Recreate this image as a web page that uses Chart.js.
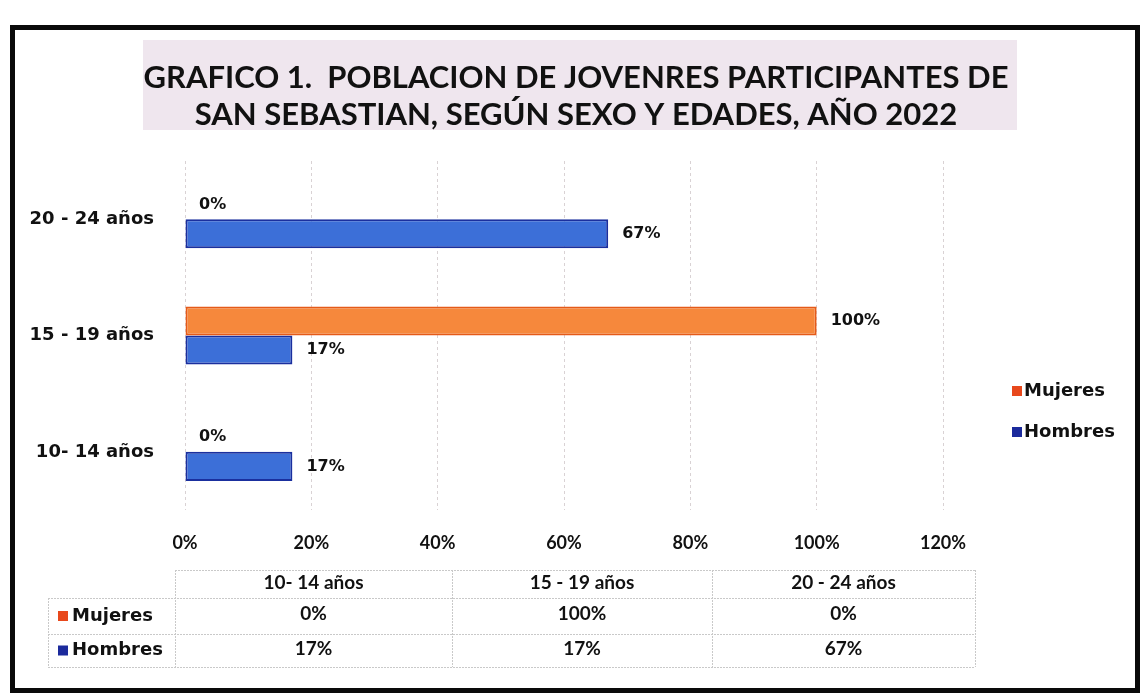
<!DOCTYPE html>
<html>
<head>
<meta charset="utf-8">
<script src="https://cdn.jsdelivr.net/npm/chart.js@4/dist/chart.umd.min.js"></script>
<style>
  html, body { margin: 0; padding: 0; background: #ffffff; }
  #wrap { position: relative; width: 1144px; height: 697px; }
</style>
</head>
<body>
<div id="wrap"><canvas id="c" width="1144" height="697"></canvas></div>
<script>
// ---- data ----
const categories = ['10- 14 años', '15 - 19 años', '20 - 24 años'];
const seriesNames = ['Mujeres', 'Hombres'];
const mujeres = [0, 100, 0];
const hombres = [17, 17, 67];
const xTicks = [0, 20, 40, 60, 80, 100, 120];
const titleLines = ['GRAFICO 1.  POBLACION DE JOVENRES PARTICIPANTES DE', 'SAN SEBASTIAN, SEGÚN SEXO Y EDADES, AÑO 2022'];

const tahoma = '"DejaVu Sans", Verdana, sans-serif';
const calibri = 'Lato, "Open Sans", sans-serif';

const framePlugin = {
  id: 'frame',
  beforeDraw(chart) {
    const ctx = chart.ctx;
    ctx.save();
    ctx.fillStyle = '#ffffff';
    ctx.fillRect(0, 0, chart.width, chart.height);
    // title box
    ctx.fillStyle = '#efe6ee';
    ctx.fillRect(143, 40, 874, 90);
    ctx.fillStyle = '#111111';
    ctx.font = 'bold 31px ' + calibri;
    ctx.textAlign = 'center';
    ctx.textBaseline = 'middle';
    ctx.fillText(titleLines[0], 576, 78);
    ctx.fillText(titleLines[1], 576, 115);
    // frame
    ctx.strokeStyle = '#0a0a0a';
    ctx.lineWidth = 5;
    ctx.strokeRect(12.5, 27.5, 1125, 663);
    ctx.restore();
  },
  afterDraw(chart) {
    const ctx = chart.ctx;
    ctx.save();
    // legend
    const ds = chart.data.datasets;
    ctx.font = 'bold 18px ' + tahoma;
    ctx.textBaseline = 'middle';
    ctx.textAlign = 'left';
    ds.forEach((d, i) => {
      const y = 391 + i * 41;
      ctx.fillStyle = d.legendColor;
      ctx.fillRect(1012, y - 5, 10, 10);
      ctx.fillStyle = '#111111';
      ctx.fillText(d.label, 1024, y);
    });
    // data table
    const cols = [175, 452, 712, 975];
    const rows = [570, 598, 634, 667];
    ctx.strokeStyle = '#c9c9c9';
    ctx.lineWidth = 1;
    ctx.setLineDash([2, 1]);
    ctx.beginPath();
    ctx.moveTo(175, rows[0] + 0.5); ctx.lineTo(975, rows[0] + 0.5);
    for (let r = 1; r < rows.length; r++) {
      ctx.moveTo(48, rows[r] + 0.5); ctx.lineTo(975, rows[r] + 0.5);
    }
    cols.forEach(x => { ctx.moveTo(x + 0.5, rows[0]); ctx.lineTo(x + 0.5, rows[3]); });
    ctx.moveTo(48.5, rows[1]); ctx.lineTo(48.5, rows[3]);
    ctx.stroke();
    ctx.setLineDash([]);
    // header
    ctx.fillStyle = '#111111';
    ctx.textAlign = 'center';
    ctx.font = 'bold 19px ' + calibri;
    categories.forEach((c, i) => {
      ctx.fillText(c, (cols[i] + cols[i + 1]) / 2, 583);
    });
    ds.forEach((d, r) => {
      const y = (rows[r + 1] + rows[r + 2]) / 2;
      ctx.font = 'bold 19px ' + calibri;
      ctx.textAlign = 'center';
      ctx.fillStyle = '#111111';
      d.data.forEach((v, i) => {
        ctx.fillText(v + '%', (cols[i] + cols[i + 1]) / 2, y - 2);
      });
      ctx.fillStyle = d.legendColor;
      ctx.fillRect(58, y - 5, 10, 10);
      ctx.fillStyle = '#111111';
      ctx.textAlign = 'left';
      ctx.font = 'bold 18px ' + tahoma;
      ctx.fillText(d.label, 72, y);
    });
    ctx.restore();
  }
};

const labelPlugin = {
  id: 'barLabels',
  afterDatasetsDraw(chart) {
    const ctx = chart.ctx;
    ctx.save();
    ctx.font = 'bold 16px ' + tahoma;
    ctx.fillStyle = '#111111';
    ctx.textAlign = 'left';
    ctx.textBaseline = 'middle';
    chart.data.datasets.forEach((d, di) => {
      const meta = chart.getDatasetMeta(di);
      meta.data.forEach((el, i) => {
        ctx.fillText(d.data[i] + '%', el.x + 14, el.y);
      });
    });
    ctx.restore();
  }
};

new Chart(document.getElementById('c'), {
  type: 'bar',
  data: {
    labels: categories,
    datasets: [
      { label: seriesNames[0], data: mujeres, backgroundColor: '#f6883c', borderColor: '#e55a18', legendColor: '#e8481c', borderWidth: 2, borderSkipped: false },
      { label: seriesNames[1], data: hombres, backgroundColor: '#3c6fd8', borderColor: '#1a2f9e', legendColor: '#1b2a9c', borderWidth: 2, borderSkipped: false }
    ]
  },
  options: {
    indexAxis: 'y',
    responsive: false,
    animation: false,
    devicePixelRatio: 1,
    categoryPercentage: 0.5,
    barPercentage: 1.0,
    layout: { padding: { left: 10, right: 201, top: 161, bottom: 0 } },
    plugins: { legend: { display: false }, tooltip: { enabled: false }, title: { display: false } },
    scales: {
      y: {
        reverse: true,
        grid: { display: false, drawTicks: false },
        border: { display: false },
        afterFit(scale) { scale.width = 175; },
        ticks: { padding: 31, color: '#111111', font: { family: tahoma, size: 18, weight: 'bold' } }
      },
      x: {
        min: 0, max: 120,
        afterBuildTicks(scale) { scale.ticks = xTicks.map(v => ({ value: v })); },
        afterFit(scale) { scale.height = 187; },
        grid: { color: '#d9d2d4', lineWidth: 1, drawTicks: false },
        border: { display: false, dash: [3, 3] },
        ticks: { padding: 22, color: '#111111', font: { family: calibri, size: 18, weight: 'bold' }, callback: v => v + '%' }
      }
    }
  },
  plugins: [framePlugin, labelPlugin]
});
</script>
</body>
</html>
